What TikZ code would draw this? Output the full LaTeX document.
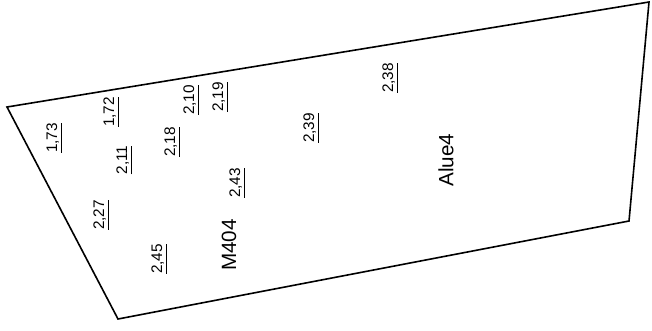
\documentclass[tikz,border=0pt]{standalone}
\usepackage{fontspec}
\setmainfont{Liberation Sans}
\usepackage{tikz}
\usetikzlibrary{positioning}
\tikzstyle{level} = [rotate=90, inner sep=0pt, font=\fontsize{11.5}{13}\selectfont]
\tikzstyle{area} = [rotate=90, inner sep=0pt, font=\fontsize{15.5}{18}\selectfont]
\tikzstyle{border} = [line width=1.2pt, line join=miter]

\begin{document}
\begin{tikzpicture}[x=0.75pt, y=-0.75pt]
        \useasboundingbox (0,0) rectangle (652,330);
        % corners of the plot
        \coordinate (nw) at (7,107);
        \coordinate (ne) at (649,2);
        \coordinate (se) at (629,221);
        \coordinate (sw) at (118,319);
        \draw [border] (nw) -- (ne) -- (se) -- (sw) -- cycle;

        % spot heights
        \node (h173) [level] at (54,138) {\underline{1,73}};
        \node (h172) [level] at (111,112) {\underline{1,72}};
        \node (h210) [level] at (191,100) {\underline{2,10}};
        \node (h219) [level] at (220,97) {\underline{2,19}};
        \node (h218) [level] at (172,142) {\underline{2,18}};
        \node (h211) [level] at (124,160) {\underline{2,11}};
        \node (h239) [level] at (311,128) {\underline{2,39}};
        \node (h243) [level] at (237,183) {\underline{2,43}};
        \node (h238) [level] at (390,78) {\underline{2,38}};
        \node (h227) [level] at (101,215) {\underline{2,27}};
        \node (h245) [level] at (159,259) {\underline{2,45}};

        % names
        \node (m404) [area] at (229,245) {M404};
        \node (alue4) [area] at (446,160) {Alue4};
    \end{tikzpicture}
\end{document}
